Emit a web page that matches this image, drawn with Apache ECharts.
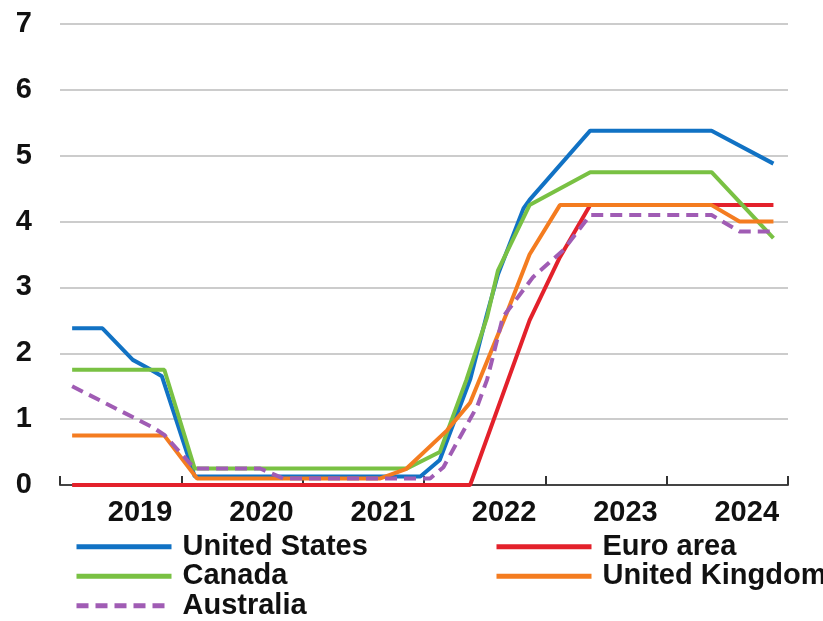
<!DOCTYPE html>
<html>
<head>
<meta charset="utf-8">
<script src="https://cdn.jsdelivr.net/npm/echarts@6/dist/echarts.min.js"></script>
<style>
html,body{margin:0;padding:0;background:#fff;}
#chart{width:823px;height:621px;}
</style>
</head>
<body>
<div id="chart"></div>
<script>
// Policy rates, percent; x = decimal year
var seriesNames = ['United States', 'Euro area', 'Canada', 'United Kingdom', 'Australia'];
var yearLabels = ['2019', '2020', '2021', '2022', '2023', '2024'];
var yTicks = [0, 1, 2, 3, 4, 5, 6, 7];

var usData = [[2019.10,2.38],[2019.35,2.38],[2019.60,1.90],[2019.72,1.78],[2019.84,1.65],[2020.11,0.13],[2021.97,0.13],[2022.13,0.38],[2022.38,1.6],[2022.52,2.6],[2022.61,3.2],[2022.82,4.2],[2022.87,4.33],[2023.37,5.38],[2024.37,5.38],[2024.88,4.88]];
var euroData = [[2019.10,0],[2022.38,0],[2022.87,2.5],[2023.12,3.46],[2023.37,4.25],[2024.88,4.25]];
var canadaData = [[2019.10,1.75],[2019.86,1.75],[2020.11,0.25],[2021.86,0.25],[2022.13,0.5],[2022.35,1.6],[2022.52,2.55],[2022.61,3.26],[2022.87,4.25],[2023.37,4.75],[2024.37,4.75],[2024.88,3.75]];
var ukData = [[2019.10,0.75],[2019.86,0.75],[2020.13,0.1],[2021.64,0.1],[2021.85,0.24],[2022.19,0.83],[2022.38,1.25],[2022.68,2.6],[2022.87,3.5],[2023.12,4.25],[2024.37,4.25],[2024.60,4.0],[2024.88,4.0]];
var ausData = [[2019.10,1.5],[2019.77,0.87],[2019.86,0.76],[2020.11,0.25],[2020.65,0.25],[2020.84,0.1],[2022.05,0.1],[2022.16,0.27],[2022.27,0.64],[2022.44,1.2],[2022.52,1.6],[2022.65,2.55],[2022.90,3.16],[2023.15,3.57],[2023.37,4.1],[2024.37,4.1],[2024.60,3.85],[2024.88,3.85]];

var colors = ['#1172c4', '#e3212b', '#79c143', '#f47c20', '#a05cb4'];
var allData = [usData, euroData, canadaData, ukData, ausData];

var FONT = '"Liberation Sans", Arial, sans-serif';

var series = seriesNames.map(function (n, i) {
  return {
    name: n,
    type: 'line',
    data: allData[i],
    symbol: 'none',
    smooth: false,
    lineStyle: { color: colors[i], width: 4, type: i === 4 ? [12, 7] : 'solid', cap: 'butt' },
    itemStyle: { color: colors[i] },
    emphasis: { disabled: true },
    z: 2 + i
  };
});

var legendCommon = {
  orient: 'vertical',
  padding: 0,
  itemWidth: 95,
  itemHeight: 20,
  itemGap: 0,
  selectedMode: false,
  inactiveColor: '#000',
  itemStyle: { opacity: 0 },
  lineStyle: { width: 5 },
  textStyle: { fontFamily: FONT, fontWeight: 'bold', fontSize: 29, color: '#111', lineHeight: 29.5, padding: [0, 0, 0, 6] }
};

var chart = echarts.init(document.getElementById('chart'), null, { renderer: 'canvas' });
chart.setOption({
  animation: false,
  backgroundColor: '#fff',
  grid: { left: 60, right: 35, top: 24, bottom: 136, containLabel: false },
  xAxis: {
    type: 'value',
    min: 2019, max: 2025, interval: 1,
    axisLine: { show: true, lineStyle: { color: '#444', width: 2 } },
    axisTick: { show: true, inside: true, length: 9, lineStyle: { color: '#333', width: 2 } },
    splitLine: { show: false },
    axisLabel: {
      customValues: yearLabels.map(function (l) { return Number(l) + 0.66; }),
      formatter: function (v) {
        var k = Math.floor(v) - Number(yearLabels[0]);
        return yearLabels[k] || '';
      },
      fontFamily: FONT, fontWeight: 'bold', fontSize: 29, color: '#111', margin: 13
    }
  },
  yAxis: {
    type: 'value',
    min: yTicks[0], max: yTicks[yTicks.length - 1], interval: 1,
    axisLine: { show: false },
    axisTick: { show: false },
    splitLine: { show: true, lineStyle: { color: '#cccccc', width: 2 } },
    axisLabel: { fontFamily: FONT, fontWeight: 'bold', fontSize: 29, color: '#111', margin: 28 }
  },
  legend: [
    Object.assign({}, legendCommon, { left: 74, top: 532, data: [seriesNames[0], seriesNames[2], seriesNames[4]] }),
    Object.assign({}, legendCommon, { left: 494, top: 532, data: [seriesNames[1], seriesNames[3]] })
  ],
  series: series
});
</script>
</body>
</html>
